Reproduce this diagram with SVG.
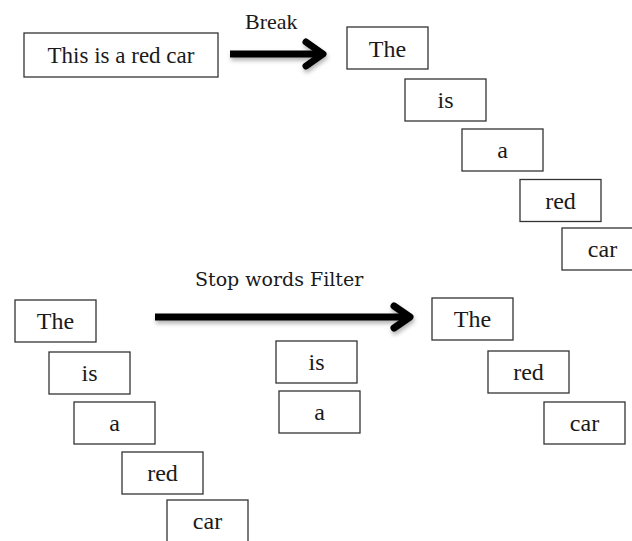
<svg xmlns="http://www.w3.org/2000/svg" width="632" height="541" viewBox="0 0 632 541">
  <style>
    .box { fill: #ffffff; stroke: #333333; stroke-width: 1.3; }
    .word { font-family: "Liberation Serif", "Times New Roman", serif; font-size: 24px; fill: #1a1a1a; text-anchor: middle; }
    .sentence { font-family: "Liberation Serif", "Times New Roman", serif; font-size: 23px; fill: #1a1a1a; text-anchor: middle; }
    .label { font-family: "Liberation Serif", "Times New Roman", serif; font-size: 22px; fill: #1a1a1a; }
    .label2 { font-family: "DejaVu Serif", serif; font-size: 19px; fill: #1a1a1a; }
    .shaft { stroke: #000000; stroke-width: 7; fill: none; }
    .head { stroke: #000000; stroke-width: 7; fill: none; stroke-linejoin: round; stroke-linecap: round; }
  </style>
  <defs>
    <filter id="shadow" x="-10%" y="-50%" width="120%" height="200%">
      <feDropShadow dx="1" dy="3" stdDeviation="2" flood-color="#000000" flood-opacity="0.3"/>
    </filter>
  </defs>
  <rect width="632" height="541" fill="#ffffff"/>

  <!-- connectors -->
  <g id="connectors" filter="url(#shadow)">
    <g id="arrow-break">
      <line class="shaft" x1="230" y1="54" x2="320" y2="54"/>
      <polyline class="head" points="306,42 323,54 306,66"/>
    </g>
    <g id="arrow-filter">
      <line class="shaft" x1="155" y1="317" x2="407" y2="317"/>
      <polyline class="head" points="394,306 410,317 394,328"/>
    </g>
  </g>
  <text class="label" x="245" y="29">Break</text>
  <text class="label2" x="195" y="286">Stop words Filter</text>

  <!-- sentence -->
  <g id="sentence">
    <rect class="box" x="24" y="33" width="194" height="44"/>
    <text class="sentence" x="121" y="63">This is a red car</text>
  </g>

  <!-- tokens after break -->
  <g id="tok-the"><rect class="box" x="347" y="27" width="81" height="42"/><text class="word" x="387.5" y="56.5">The</text></g>
  <g id="tok-is"><rect class="box" x="405" y="79" width="81" height="42"/><text class="word" x="445.5" y="108">is</text></g>
  <g id="tok-a"><rect class="box" x="462" y="129" width="81" height="42"/><text class="word" x="502.5" y="157.5">a</text></g>
  <g id="tok-red"><rect class="box" x="520" y="179.5" width="81" height="42"/><text class="word" x="560.5" y="208.5">red</text></g>
  <g id="tok-car"><rect class="box" x="562" y="228" width="81" height="42"/><text class="word" x="602.5" y="257">car</text></g>

  <!-- filter input -->
  <g id="in-the"><rect class="box" x="15" y="300" width="81" height="42"/><text class="word" x="55.5" y="329">The</text></g>
  <g id="in-is"><rect class="box" x="49" y="352" width="81" height="42"/><text class="word" x="89.5" y="381">is</text></g>
  <g id="in-a"><rect class="box" x="74" y="402" width="81" height="42"/><text class="word" x="114.5" y="431">a</text></g>
  <g id="in-red"><rect class="box" x="122" y="452" width="81" height="42"/><text class="word" x="162.5" y="481">red</text></g>
  <g id="in-car"><rect class="box" x="167" y="500" width="81" height="44"/><text class="word" x="207.5" y="529">car</text></g>

  <!-- removed stop words -->
  <g id="stop-is"><rect class="box" x="276" y="341" width="81" height="42"/><text class="word" x="316.5" y="370">is</text></g>
  <g id="stop-a"><rect class="box" x="279" y="391" width="81" height="42"/><text class="word" x="319.5" y="420">a</text></g>

  <!-- filter output -->
  <g id="out-the"><rect class="box" x="432" y="298" width="81" height="42"/><text class="word" x="472.5" y="327">The</text></g>
  <g id="out-red"><rect class="box" x="488" y="351" width="81" height="42"/><text class="word" x="528.5" y="380">red</text></g>
  <g id="out-car"><rect class="box" x="544" y="402" width="81" height="42"/><text class="word" x="584.5" y="431">car</text></g>
</svg>
